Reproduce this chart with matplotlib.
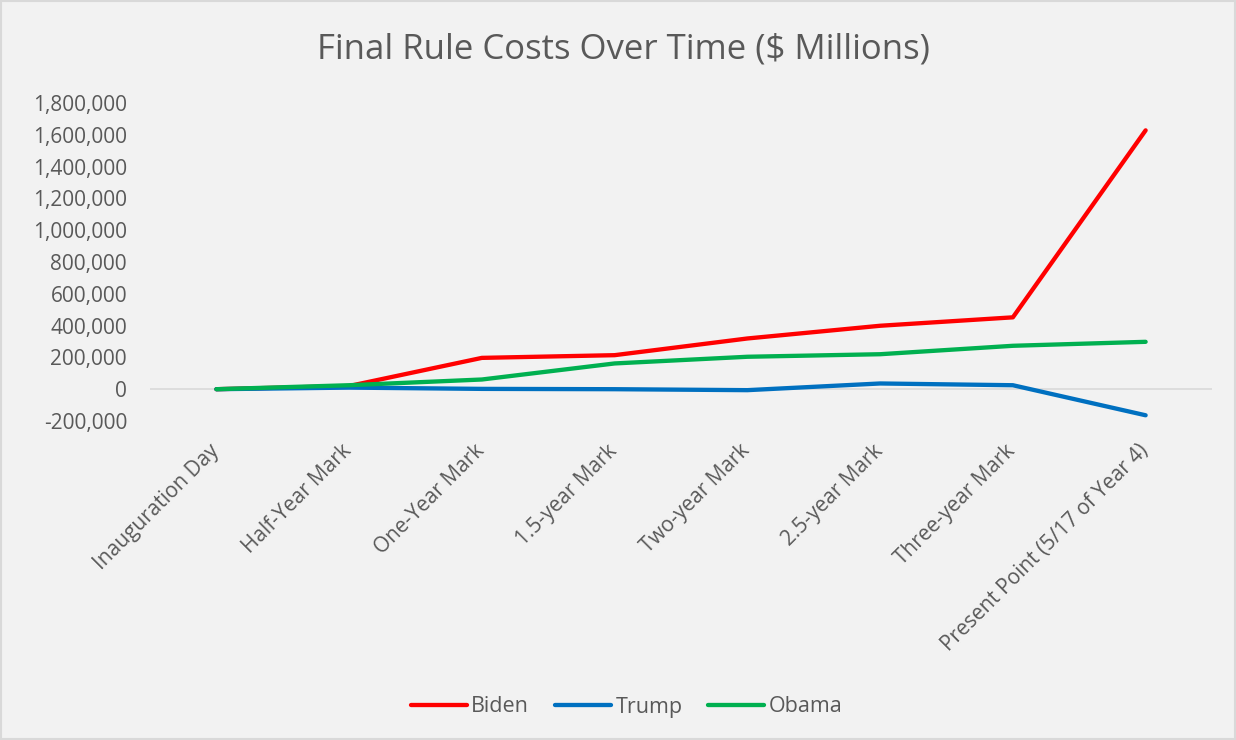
import matplotlib
matplotlib.use("Agg")
import matplotlib.pyplot as plt
from matplotlib.ticker import FuncFormatter
from matplotlib.patches import Rectangle
from matplotlib.transforms import ScaledTranslation

categories = ["Inauguration Day", "Half-Year Mark", "One-Year Mark", "1.5-year Mark",
              "Two-year Mark", "2.5-year Mark", "Three-year Mark", "Present Point (5/17 of Year 4)"]
biden = [0, 20000, 197000, 214000, 319000, 399000, 452000, 1628000]
trump = [0, 10000, 2000, 0, -6000, 36000, 25000, -164000]
obama = [0, 25000, 61000, 162000, 204000, 220000, 273000, 298000]
series_names = ["Biden", "Trump", "Obama"]
colors = ["#FF0000", "#0070C0", "#00B050"]
yticks = list(range(-200000, 1800001, 200000))

plt.rcParams['font.family'] = ['Open Sans', 'DejaVu Sans']
txt = "#595959"

fig = plt.figure(figsize=(12.36, 7.4), dpi=100)
fig.patch.set_facecolor("#F2F2F2")
fig.patches.append(Rectangle((0.001, 0.001), 0.998, 0.998, transform=fig.transFigure,
                             fill=False, edgecolor="#D9D9D9", linewidth=1.5))
W, H = 1236, 740
ax = fig.add_axes([150 / W, 1 - 421 / H, (1212 - 150) / W, (421 - 103) / H])
ax.set_facecolor("#F2F2F2")

x = list(range(len(categories)))
for name, vals, c in zip(series_names, [biden, trump, obama], colors):
    ax.plot(x, vals, color=c, linewidth=3.1, solid_capstyle="round",
            solid_joinstyle="round", label=name)

ax.axhline(0, color="#D9D9D9", linewidth=1.2, zorder=0)
ax.set_xlim(-0.5, len(categories) - 0.5)
ax.set_ylim(-200000, 1800000)
ax.set_yticks(yticks)
ax.yaxis.set_major_formatter(FuncFormatter(lambda v, p: f"{int(v):,}"))
ax.set_xticks(x)
ax.set_xticklabels(categories, rotation=45, ha="right", rotation_mode="anchor")
for s in ax.spines.values():
    s.set_visible(False)
ax.tick_params(axis="both", length=0, colors=txt)
ax.tick_params(axis="y", pad=16.5, labelsize=15)
ax.tick_params(axis="x", pad=14, labelsize=15)
off = ScaledTranslation(-8 / 100, 0, fig.dpi_scale_trans)
for lab in ax.get_xticklabels():
    lab.set_transform(lab.get_transform() + off)

fig.text(0.504, 1 - 49 / H, "Final Rule Costs Over Time (\\$ Millions)", ha="center",
         va="center", fontsize=25, color=txt)

leg = fig.legend(loc="center", bbox_to_anchor=(0.507, 1 - 707 / H), ncol=3, frameon=False,
                 fontsize=15.5, handlelength=2.6, handletextpad=0.2, columnspacing=1.2)
for t in leg.get_texts():
    t.set_color(txt)

fig.savefig("out.png", dpi=100, facecolor=fig.get_facecolor())
